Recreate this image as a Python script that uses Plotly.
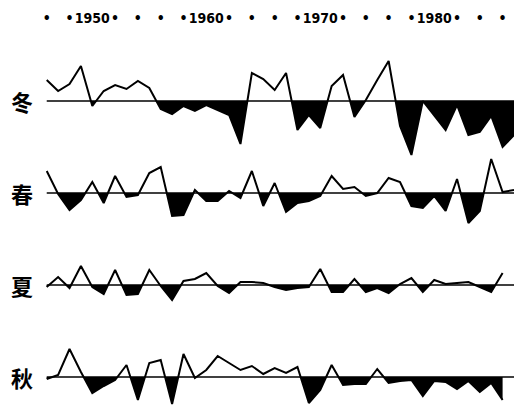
import plotly.graph_objects as go

# ---------------- data ----------------
years = list(range(1946, 1988))
seasons = ["冬", "春", "夏", "秋"]

winter = [2.1, 1.0, 1.7, 3.5, -0.5, 1.0, 1.6, 1.2, 2.0, 1.3,
          -0.8, -1.3, -0.5, -1.0, -0.4, -0.9, -1.4, -4.3, 2.8, 2.2,
          1.1, 2.8, -2.9, -1.4, -2.7, 1.5, 2.6, -1.6, 0.1, 2.1,
          4.0, -2.5, -5.4, 0.0, -1.4, -2.9, -0.4, -3.4, -3.1, -1.5,
          -4.6, -3.4]
spring = [2.2, -0.1, -1.7, -0.7, 1.1, -1.0, 1.7, -0.4, -0.2, 2.0,
          2.6, -2.3, -2.2, 0.3, -0.8, -0.8, 0.2, -0.5, 2.2, -1.3,
          1.0, -1.9, -1.0, -0.8, -0.3, 1.7, 0.4, 0.6, -0.3, 0.0,
          1.5, 1.1, -1.3, -1.5, -0.3, -1.8, 1.4, -3.0, -1.8, 3.4,
          0.1, 0.3]
summer = [-0.2, 0.8, -0.3, 1.9, -0.2, -0.9, 1.5, -1.0, -0.9, 1.5,
          -0.1, -1.5, 0.4, 0.6, 1.2, -0.1, -0.8, 0.3, 0.3, 0.2,
          -0.2, -0.5, -0.3, -0.2, 1.6, -0.7, -0.7, 0.6, -0.7, -0.3,
          -0.8, 0.1, 0.7, -0.7, 0.5, 0.1, 0.2, 0.3, -0.2, -0.7,
          1.2]
autumn = [-0.2, 0.2, 2.8, 0.5, -1.6, -0.9, -0.3, 1.2, -2.3, 1.4,
          1.7, -2.7, 2.3, -0.1, 0.7, 2.1, 1.4, 0.7, 1.1, 0.3,
          0.9, 0.4, 1.0, -2.6, -1.3, 1.2, -0.8, -0.7, -0.7, 0.8,
          -0.6, -0.4, -0.3, -1.9, -0.4, -0.5, -1.2, -0.4, -1.5, -0.6,
          -2.3]
series = [winter, spring, summer, autumn]

tick_years = list(range(1946, 1988, 2))
decade_labels = {1950: "1950", 1960: "1960", 1970: "1970", 1980: "1980"}

# ---------------- layout helpers (style) ----------------
W, H = 514, 405
SCALE = 10.0  # px per unit
# (baseline px, top px, bottom px) for each panel
panels = [(101, 40, 165), (193, 146, 247), (285, 250, 322), (377, 322, 405)]
XRANGE = [1941.9, 1987.0]


def neg_part(xs, ys):
    """Negative part of the polyline, with interpolated zero crossings."""
    px, py = [], []
    for i in range(len(xs)):
        if i > 0:
            y0, y1 = ys[i - 1], ys[i]
            if (y0 < 0 < y1) or (y1 < 0 < y0):
                t = y0 / (y0 - y1)
                px.append(xs[i - 1] + t * (xs[i] - xs[i - 1]))
                py.append(0.0)
        px.append(xs[i])
        py.append(min(ys[i], 0.0))
    return px, py


fig = go.Figure()
layout_axes = {}
for k, (vals, (base, top, bot)) in enumerate(zip(series, panels)):
    yname = "y" if k == 0 else f"y{k+1}"
    axname = "yaxis" if k == 0 else f"yaxis{k+1}"
    xs = years[:len(vals)]
    nx, ny = neg_part(xs, vals)
    fig.add_trace(go.Scatter(x=nx, y=ny, mode="lines", fill="tozeroy",
                             fillcolor="black", line=dict(width=0, color="black"),
                             yaxis=yname, hoverinfo="skip", showlegend=False))
    fig.add_trace(go.Scatter(x=xs, y=vals, mode="lines",
                             line=dict(width=2, color="black"),
                             yaxis=yname, showlegend=False))
    layout_axes[axname] = dict(
        domain=[1 - bot / H, 1 - top / H],
        range=[(base - bot) / SCALE, (base - top) / SCALE],
        visible=False, fixedrange=True, anchor="x",
    )
    fig.add_shape(type="line", xref="x", yref=yname,
                  x0=years[0], x1=XRANGE[1], y0=0, y1=0,
                  line=dict(color="black", width=1.6), layer="above")
    fig.add_annotation(x=22 / W, xref="paper", y=0, yref=yname,
                       text="<b>" + seasons[k] + "</b>", showarrow=False,
                       font=dict(family="Noto Sans CJK SC", size=22, color="black"),
                       xanchor="center", yanchor="middle")

ticktext = []
for yv in tick_years:
    if yv in decade_labels:
        ticktext.append("<b>" + decade_labels[yv] + "</b>")
    else:
        ticktext.append("<b>•</b>")

fig.update_layout(
    width=W, height=H,
    margin=dict(l=0, r=0, t=0, b=0, autoexpand=False),
    paper_bgcolor="white", plot_bgcolor="rgba(0,0,0,0)",
    xaxis=dict(range=XRANGE, side="top", anchor="free", position=1 - 26 / H,
               tickmode="array", tickvals=tick_years, ticktext=ticktext,
               tickangle=0, ticks="", showgrid=False, zeroline=False,
               showline=False,
               tickfont=dict(family="DejaVu Sans Condensed", size=14, color="black"),
               fixedrange=True),
    **layout_axes,
)

fig.write_html("out.html", config={"displayModeBar": False},
               post_script="document.body.style.margin='0';")
